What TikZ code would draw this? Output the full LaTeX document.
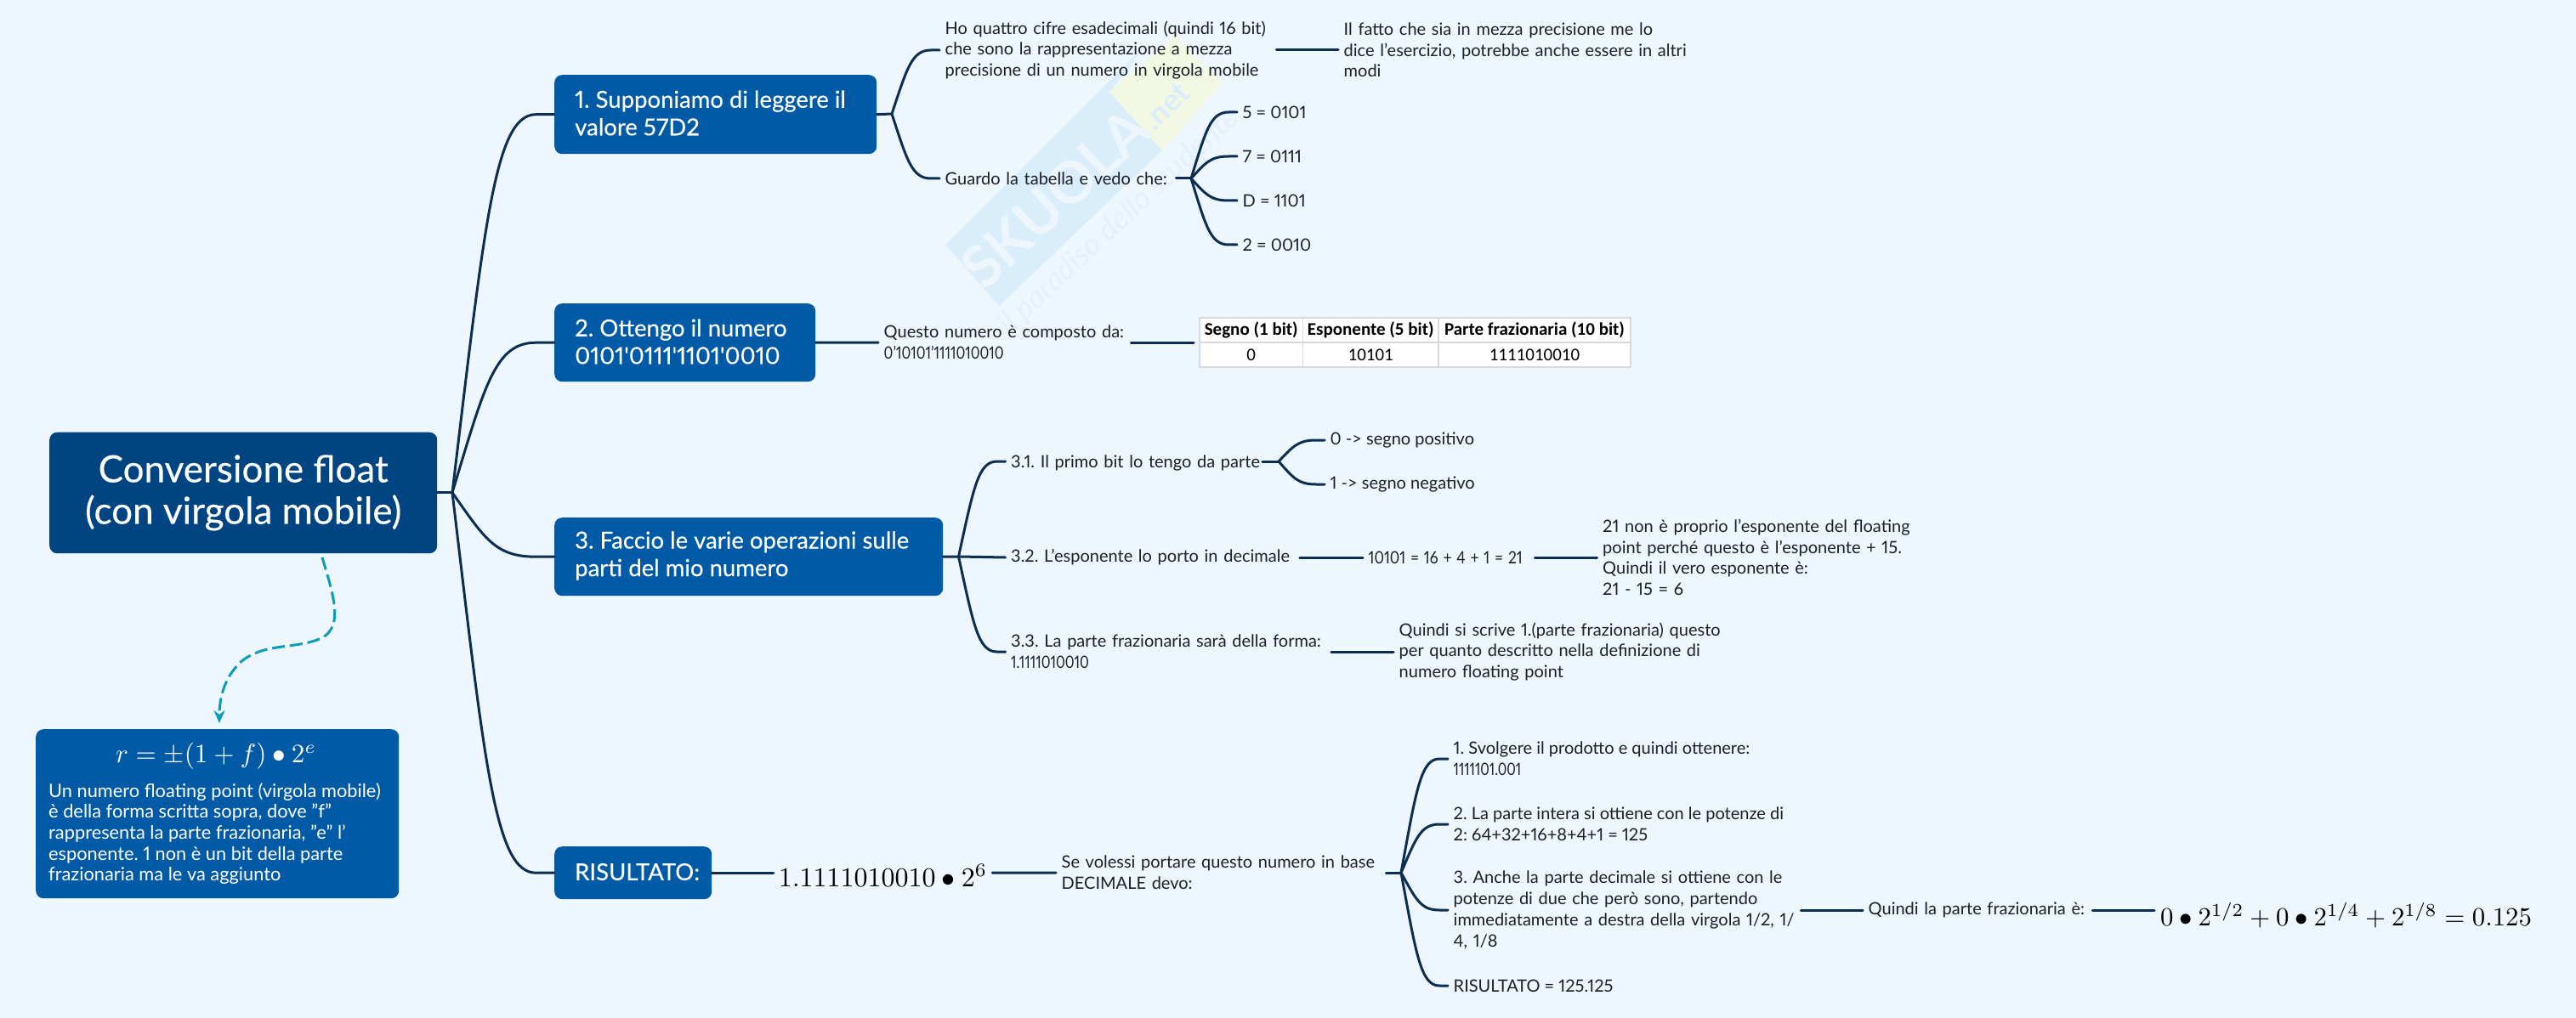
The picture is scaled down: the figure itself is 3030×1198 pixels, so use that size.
\documentclass[tikz,border=0pt]{standalone}
\usepackage{graphicx}
\usepackage{fontspec}
\setmainfont[Numbers=Proportional]{Lato}
\newfontfamily\boxfont[FakeBold=0.25,Numbers=Proportional]{Lato}
\newfontfamily\tabfont{Carlito}
\usetikzlibrary{calc,arrows.meta}
\newcommand{\li}[1]{\mbox{#1}}
\newcommand{\cnd}[2]{\scalebox{#1}[1]{#2}}
\frenchspacing
\definecolor{pagebg}{HTML}{EEF7FE}
\definecolor{topbox}{HTML}{004582}
\definecolor{subbox}{HTML}{015AA5}
\definecolor{linkc}{HTML}{0C2E50}
\definecolor{inkc}{HTML}{1A2026}
\definecolor{tealc}{HTML}{0A9CB8}
\definecolor{wmblue}{HTML}{D9EDFB}
\definecolor{wmyellow}{HTML}{F3F8E2}
\definecolor{wmletter}{HTML}{EDF6FD}
\definecolor{wmtag}{HTML}{E4F0FA}
\definecolor{gridc}{HTML}{D6DADD}
\tikzset{
  x=1pt,y=-1pt,
  link/.style={draw=linkc,line width=3pt,line cap=round},
  mm/.style={to path={let \p1=(\tikztostart),\p2=(\tikztotarget),\n1={\x2-\x1},\n2={\y2-\y1} in
    .. controls (\x1+0.32*\n1,\y1+0.72*\n2) and (\x1+0.42*\n1,\y2) .. (\x1+0.82*\n1,\y2) -- (\tikztotarget)}},
  txt/.style={anchor=west,align=left,inner xsep=6.5pt,inner ysep=0pt,text=inkc,
    font=\frenchspacing\fontsize{20}{24.7}\selectfont},
  blue box/.style={anchor=north west,rounded corners=9pt,fill=subbox,inner sep=0pt},
  box text/.style={anchor=west,text=white,align=left,inner sep=0pt,font=\boxfont\frenchspacing\fontsize{27.5}{32.5}\selectfont},
  cellb/.style={draw=gridc,line width=1.5pt,fill=white,minimum height=29pt,inner sep=0pt,text=black,
    font=\tabfont\fontsize{21}{25}\selectfont},
  cellh/.style={cellb,font=\tabfont\bfseries\fontsize{21}{25}\selectfont},
}
\begin{document}
\begin{tikzpicture}
\useasboundingbox (0,0) rectangle (3030,1198);
\fill[pagebg] (0,0) rectangle (3030,1198);
% watermark
\fill[wmblue] (1112,288) -- (1353,47) -- (1305,108) -- (1367,177) -- (1175,360) -- cycle;
\fill[wmyellow] (1305,108) -- (1382,43) -- (1438,97) -- (1367,177) -- cycle;
\node[rotate=43,text=wmletter,inner sep=0pt,font=\bfseries\fontsize{68}{70}\selectfont] (wm1) at (1241,233) {SKUOLA};
\node[rotate=45,text=wmblue,inner sep=0pt,font=\bfseries\fontsize{36}{38}\selectfont] (wm2) at (1372,125) {.net};
\node[rotate=43,text=wmtag,inner sep=0pt,font=\itshape\fontsize{36}{38}\selectfont] (wm3) at (1316,261) {il paradiso dello studente};

% central
\node[anchor=north west,rounded corners=9pt,fill=topbox,text=white,align=center,inner sep=0pt,
  minimum width=456pt,minimum height=142.5pt,font=\boxfont\fontsize{44}{49}\selectfont] (root) at (58,508.5)
  {Conversione float\\(con virgola mobile)};
\coordinate (rj) at (532,579.7);

% boxes
\node[blue box,minimum width=379pt,minimum height=93pt] (b1) at (652,88) {};
\node[box text] (b1t) at (676,133) {1. Supponiamo di leggere il\\valore 57D2};
\node[blue box,minimum width=307pt,minimum height=92pt] (b2) at (652,357) {};
\node[box text] (b2t) at (676,402) {2. Ottengo il numero\\0101'0111'1101'0010};
\node[blue box,minimum width=457pt,minimum height=92pt] (b3) at (652,609) {};
\node[box text] (b3t) at (676,654) {3. Faccio le varie operazioni sulle\\parti del mio numero};
\node[blue box,minimum width=185pt,minimum height=62pt] (b4) at (652,996) {};
\node[box text] (b4t) at (676,1026) {RISULTATO:};

% note
\node[anchor=north west,rounded corners=9pt,fill=subbox,inner sep=0pt,minimum width=427pt,minimum height=199pt] (note) at (42,858) {};
\node[text=white,inner sep=0pt] (notem) at (254,890) {\scalebox{3.12}{$r=\pm(1+f)\bullet 2^{e}$}};
\node[anchor=north west,text=white,align=left,inner sep=0pt,font=\frenchspacing\fontsize{21.8}{24.7}\selectfont] (notet) at (57,921)
 {Un numero floating point (virgola mobile)\\è della forma scritta sopra, dove "f"\\rappresenta la parte frazionaria, "e" l'\\esponente. 1 non è un bit della parte\\frazionaria ma le va aggiunto};
\coordinate (ds) at (379,656);
\coordinate (de) at (258,851);
\draw[tealc,line width=3pt,dash pattern=on 15pt off 6pt,-{Stealth[length=15pt,width=13pt]}]
  (ds) .. controls (392,700) and (404,735) .. (380,750)
  .. controls (350,765) and (310,755) .. (282,780)
  .. controls (262,800) and (258,825) .. (de);

% branch 1
\node[txt,text width=383pt] (t1a) at (1105,59) {\li{Ho quattro cifre esadecimali (quindi 16 bit)}\\\li{che sono la rappresentazione a mezza}\\\li{precisione di un numero in virgola mobile}};
\node[txt,text width=430pt] (t1b) at (1574,59) {\li{Il fatto che sia in mezza precisione me lo}\\\li{dice l'esercizio, potrebbe anche essere in altri}\\\li{modi}};
\node[txt,text width=265pt] (t1c) at (1105,210) {\li{Guardo la tabella e vedo che:}};
\node[txt] (d5) at (1455,132) {5 = 0101};
\node[txt] (d7) at (1455,184) {7 = 0111};
\node[txt] (dD) at (1455,236) {D = 1101};
\node[txt] (d2) at (1455,288) {2 = 0010};
\coordinate (j1) at (1049,134);
\coordinate (j1c) at (1401,210);

% branch 2
\node[txt,text width=284pt] (t2a) at (1033,403) {\li{Questo numero è composto da:}\\\li{\cnd{0.82}{0'10101'1111010010}}};
\coordinate (tblw) at (1404,403);
\node[cellh,minimum width=121.5pt] (h1) at (1471.75,388.5) {\raisebox{-2pt}{Segno (1 bit)}};
\node[cellh,minimum width=159.5pt] (h2) at (1612.25,388.5) {\raisebox{-2pt}{Esponente (5 bit)}};
\node[cellh,minimum width=226pt] (h3) at (1805,388.5) {\raisebox{-2pt}{Parte frazionaria (10 bit)}};
\node[cellb,minimum width=121.5pt] (c1) at (1471.75,417.5) {0};
\node[cellb,minimum width=159.5pt] (c2) at (1612.25,417.5) {10101};
\node[cellb,minimum width=226pt] (c3) at (1805,417.5) {1111010010};

% branch 3
\coordinate (j3) at (1127.5,655);
\node[txt,text width=289pt] (a31) at (1182.5,545) {\li{3.1. Il primo bit lo tengo da parte}};
\node[txt] (s0) at (1558,518) {0 -> segno positivo};
\node[txt] (s1) at (1558,570) {1 -> segno negativo};
\coordinate (j31) at (1504,543);
\node[txt,text width=333pt] (a32) at (1182.5,656) {\li{3.2. L'esponente lo porto in decimale}};
\node[txt,text width=189pt] (a32b) at (1603,656) {\li{\cnd{0.87}{10101 = 16 + 4 + 1 = 21}}};
\node[txt,text width=390pt] (a32c) at (1878.5,656) {\li{21 non è proprio l'esponente del floating}\\\li{point perché questo è l'esponente + 15.}\\\li{Quindi il vero esponente è:}\\\li{21 - 15 = 6}};
\node[txt,text width=370pt] (a33) at (1182.5,767) {\li{3.3. La parte frazionaria sarà della forma:}\\\li{\cnd{0.82}{1.1111010010}}};
\node[txt,text width=400pt] (a33b) at (1639,767) {\li{Quindi si scrive 1.(parte frazionaria) questo}\\\li{per quanto descritto nella definizione di}\\\li{numero floating point}};

% branch 4
\node[inner sep=0pt,minimum width=257pt,minimum height=40pt] (rm) at (1038.5,1030) {\scalebox{3.2}{$1.1111010010\bullet 2^{6}$}};
\node[txt,text width=375pt] (r2) at (1242,1027) {\li{Se volessi portare questo numero in base}\\\li{DECIMALE devo:}};
\coordinate (j4) at (1648,1027);
\node[txt] (e1) at (1703,893) {1. Svolgere il prodotto e quindi ottenere:\\\cnd{0.8}{1111101.001}};
\node[txt] (e2) at (1703,970) {2. La parte intera si ottiene con le potenze di\\2: 64+32+16+8+4+1 = 125};
\node[txt,text width=402pt] (e3) at (1703,1071) {\li{3. Anche la parte decimale si ottiene con le}\\\li{potenze di due che però sono, partendo}\\\li{immediatamente a destra della virgola 1/2, 1/}\\\li{4, 1/8}};
\node[txt] (e4) at (1703,1160) {RISULTATO = 125.125};
\node[txt,text width=257pt] (q) at (2191,1071) {\li{Quindi la parte frazionaria è:}};
\node[inner sep=7pt,anchor=west] (m) at (2534,1077) {\scalebox{3.08}{$0\bullet 2^{1/2}+0\bullet 2^{1/4}+2^{1/8}=0.125$}};

% connectors
\draw[link] (root.east |- rj) -- (rj);
\foreach \nm in {b1,b2,b3,b4} {\draw[link] (rj) to[mm] (\nm.west);}
\draw[link] (b1.east) -- (j1);
\draw[link] (j1) to[mm] (t1a.west);
\draw[link] (j1) to[mm] (t1c.west);
\draw[link] (t1a.east) -- (t1b.west);
\draw[link] (t1c.east) -- (j1c);
\foreach \nm in {d5,d7,dD,d2} {\draw[link] (j1c) to[mm] (\nm.west);}
\draw[link] (b2.east) -- (t2a.west);
\draw[link] (t2a.east) -- (tblw);
\draw[link] (b3.east) -- (j3);
\draw[link] (j3) to[mm] (a31.west |- j31);
\draw[link] (j3) -- (a32.west);
\draw[link] (j3) to[mm] (a33.west);
\draw[link] (a31.east |- j31) -- (j31);
\draw[link] (j31) to[mm] (s0.west);
\draw[link] (j31) to[mm] (s1.west);
\draw[link] (a32.east) -- (a32b.west);
\draw[link] (a32b.east) -- (a32c.west);
\draw[link] (a33.east) -- (a33b.west);
\draw[link] (b4.east) -- (rm.west |- b4.east);
\draw[link] (rm.east |- b4.east) -- (r2.west);
\draw[link] (r2.east) -- (j4);
\foreach \nm in {e1,e2,e3,e4} {\draw[link] (j4) to[mm] (\nm.west);}
\draw[link] (e3.east) -- (q.west);
\draw[link] (q.east) -- (m.west |- q.east);
\end{tikzpicture}
\end{document}
